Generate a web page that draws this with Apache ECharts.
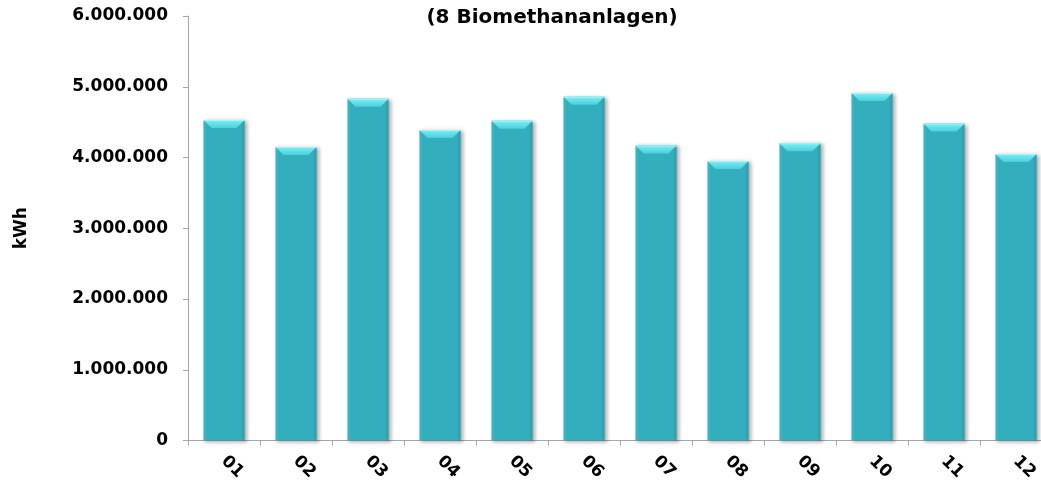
<!DOCTYPE html>
<html>
<head>
<meta charset="utf-8">
<script src="https://cdn.jsdelivr.net/npm/echarts@6/dist/echarts.min.js"></script>
<style>
  html, body { margin: 0; padding: 0; background: #fff; }
  #chart { width: 1041px; height: 485px; }
</style>
</head>
<body>
<div id="chart"></div>
<script>
// Monate
var months = ['01', '02', '03', '04', '05', '06', '07', '08', '09', '10', '11', '12']
// Einspeisung je Monat in kWh
var energy = [4530000, 4150000, 4830000, 4390000, 4520000, 4860000, 4170000, 3950000, 4200000, 4910000, 4480000, 4050000]
var yTicks = [0, 1000000, 2000000, 3000000, 4000000, 5000000, 6000000]

var BAR_RATIO = 0.57
var font = 'Verdana, "DejaVu Sans", sans-serif'

function fmt (v) {
  return String(v).replace(/\B(?=(\d{3})+(?!\d))/g, '.')
}

var chart = echarts.init(document.getElementById('chart'))

chart.setOption({
  animation: false,
  title: {
    text: '(8 Biomethananlagen)',
    left: 547,
    top: 3,
    textAlign: 'center',
    textStyle: { fontFamily: font, fontWeight: 'bold', fontSize: 20, color: '#000' }
  },
  // Zeichenfläche reicht rechts etwas über den Rand hinaus (wie im Original)
  grid: { left: 188, width: 864, top: 16, bottom: 44.5, outerBoundsMode: 'none', containLabel: false },
  xAxis: {
    type: 'category',
    data: months,
    axisLine: { lineStyle: { color: '#a6a6a6', width: 1 } },
    axisTick: { show: true, length: 5, lineStyle: { color: '#a6a6a6' } },
    axisLabel: {
      rotate: -45,
      margin: 18,
      fontFamily: font,
      fontWeight: 'bold',
      fontSize: 17,
      color: '#000'
    }
  },
  yAxis: {
    type: 'value',
    min: yTicks[0],
    max: yTicks[yTicks.length - 1],
    interval: 1000000,
    name: 'kWh',
    nameLocation: 'middle',
    nameGap: 158,
    nameRotate: 90,
    nameTextStyle: { fontFamily: font, fontWeight: 'bold', fontSize: 17, color: '#000' },
    axisLine: { show: true, lineStyle: { color: '#a6a6a6', width: 1 } },
    axisTick: { show: true, length: 5, lineStyle: { color: '#a6a6a6' } },
    splitLine: { show: false },
    axisLabel: {
      margin: 20,
      fontFamily: font,
      fontWeight: 'bold',
      fontSize: 17,
      color: '#000',
      formatter: fmt
    }
  },
  series: [
    {
      type: 'bar',
      data: energy,
      barWidth: (BAR_RATIO * 100) + '%',
      itemStyle: {
        color: {
          type: 'linear', x: 0, y: 0, x2: 1, y2: 0,
          colorStops: [
            { offset: 0, color: '#3cb9c6' },
            { offset: 0.08, color: '#33aebd' },
            { offset: 0.92, color: '#33aebd' },
            { offset: 1, color: '#2a98a6' }
          ]
        },
        shadowColor: 'rgba(0,0,0,0.35)',
        shadowBlur: 4,
        shadowOffsetX: 2,
        shadowOffsetY: 1
      }
    },
    {
      // Abschrägung oben an den Balken
      type: 'custom',
      data: energy.map(function (v, i) { return [i, v] }),
      z: 3,
      silent: true,
      renderItem: function (params, api) {
        var top = api.coord([api.value(0), api.value(1)])
        var w = api.size([1, 0])[0] * BAR_RATIO
        var x0 = top[0] - w / 2
        var x1 = top[0] + w / 2
        var y0 = top[1]
        var b = 8
        return {
          type: 'group',
          children: [
            {
              type: 'polygon',
              shape: { points: [[x0, y0], [x1, y0], [x1 - b, y0 + b], [x0 + b, y0 + b]] },
              style: {
                fill: {
                  type: 'linear', x: 0, y: 0, x2: 0, y2: 1,
                  colorStops: [
                    { offset: 0, color: '#7befF4' },
                    { offset: 1, color: '#4ccfdb' }
                  ]
                }
              }
            },
            {
              type: 'rect',
              shape: { x: x0, y: y0, width: w, height: 1 },
              style: { fill: '#a8f6fa' }
            }
          ]
        }
      }
    }
  ]
})
</script>
</body>
</html>
